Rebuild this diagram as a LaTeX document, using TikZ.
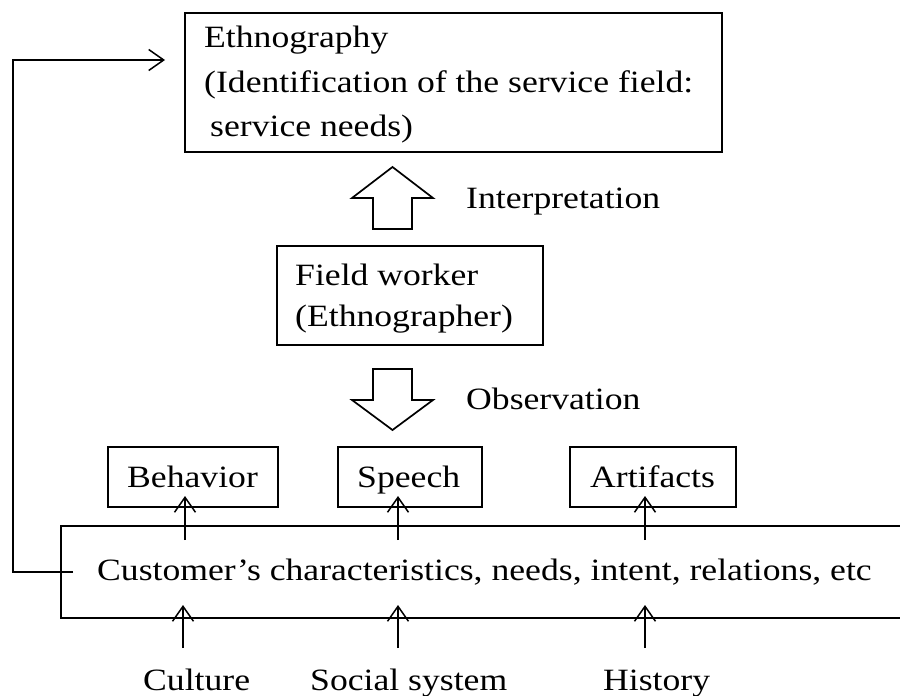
\documentclass[tikz,border=0pt]{standalone}
\usepackage{fontspec}
\setmainfont{Liberation Serif}[FakeStretch=1.15]
\usetikzlibrary{arrows.meta}
\begin{document}
\begin{tikzpicture}[x=1pt,y=-1pt,
  box/.style={draw, line width=1.7pt, inner sep=0pt, anchor=north west},
  txt/.style={anchor=base west, inner sep=0pt, font=\fontsize{31}{40}\selectfont},
  tip/.style={-{Straight Barb[length=15pt,width=21pt,line width=1.5pt]}},
  thinarrow/.style={line width=1.5pt, tip},
  feed/.style={line width=1.8pt, tip},
  blk/.style={draw, line width=1.7pt, fill=white, line join=miter}]
\useasboundingbox (0,0) rectangle (900,696);
\clip (0,0) rectangle (900,696);

% boxes
\node[box, minimum width=537pt, minimum height=139pt] (ethno) at (184,12) {};
\node[box, minimum width=266pt, minimum height=99pt] (fw) at (276,245) {};
\node[box, minimum width=170pt, minimum height=60pt] (beh) at (107,446) {};
\node[box, minimum width=144pt, minimum height=60pt] (spe) at (337,446) {};
\node[box, minimum width=166pt, minimum height=60pt] (art) at (569,446) {};
\node[box, minimum width=900pt, minimum height=92pt] (cust) at (60,525) {};

% texts
\node[txt] (e1) at (204,47) {Ethnography};
\node[txt] (e2) at (204,92) {(Identification of the service field:};
\node[txt] (e3) at (204,136) {\hspace*{6pt}service needs)};
\node[txt] (f1) at (295,285) {Field worker};
\node[txt] (f2) at (295,326) {(Ethnographer)};
\node[txt] (interp) at (466,208) {Interpretation};
\node[txt] (obs) at (466,409) {Observation};
\node[txt] (tbeh) at (127,487) {Behavior};
\node[txt] (tspe) at (357,487) {Speech};
\node[txt] (tart) at (590,487) {Artifacts};
\node[txt] (tcust) at (97,580) {Customer’s characteristics, needs, intent, relations, etc};
\node[txt] (cul) at (143,690) {Culture};
\node[txt] (soc) at (310,690) {Social system};
\node[txt] (his) at (603,690) {History};

% block arrows
\draw[blk] (373,229) -- (373,198) -- (352,198) -- (392.5,167) -- (433,198) -- (412,198) -- (412,229) -- cycle;
\draw[blk] (373,369) -- (373,400) -- (352,400) -- (392.5,430) -- (433,400) -- (412,400) -- (412,369) -- cycle;

% arrows from customer box to observations
\coordinate (u1s) at (185,540); \coordinate (u1e) at (185,496);
\coordinate (u2s) at (398,540); \coordinate (u2e) at (398,496);
\coordinate (u3s) at (645,540); \coordinate (u3e) at (645,496);
\draw[thinarrow] (u1s) -- (u1e);
\draw[thinarrow] (u2s) -- (u2e);
\draw[thinarrow] (u3s) -- (u3e);

% arrows from factors to customer box
\coordinate (d1s) at (183,648); \coordinate (d1e) at (183,605);
\coordinate (d2s) at (398,648); \coordinate (d2e) at (398,605);
\coordinate (d3s) at (645,648); \coordinate (d3e) at (645,605);
\draw[thinarrow] (d1s) -- (d1e);
\draw[thinarrow] (d2s) -- (d2e);
\draw[thinarrow] (d3s) -- (d3e);

% feedback loop
\coordinate (fbS) at (73,572);
\coordinate (fbE) at (165,60);
\draw[feed] (fbS) -- (13,572) |- (fbE);
\end{tikzpicture}
\end{document}
